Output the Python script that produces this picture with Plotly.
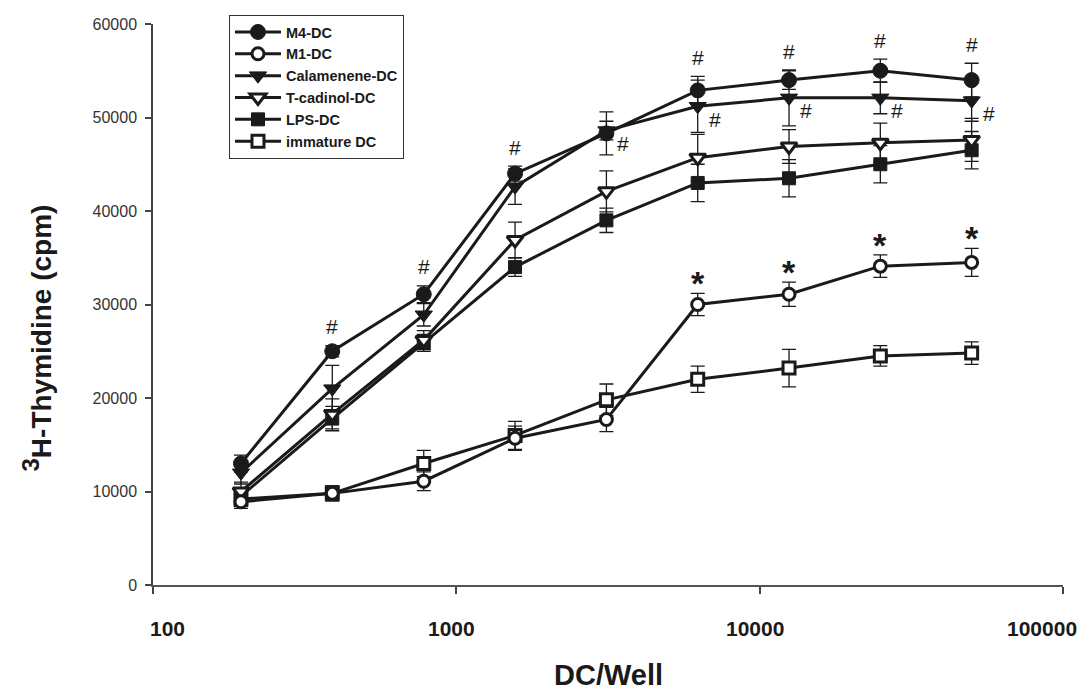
import math
import plotly.graph_objects as go

# DC per well (two-fold dilution series)
dc_per_well = [195, 390, 781, 1562, 3125, 6250, 12500, 25000, 50000]

m4_dc = [13000, 25000, 31100, 44000, 48300, 52900, 54000, 55000, 54000]
m4_dc_err = [900, 600, 900, 800, 2300, 1500, 1000, 1250, 1800]

m1_dc = [8900, 9800, 11100, 15700, 17700, 30000, 31100, 34100, 34500]
m1_dc_err = [700, 800, 1000, 1300, 1300, 1200, 1300, 1200, 1500]

calamenene_dc = [12000, 21000, 28900, 42600, 48600, 51200, 52100, 52100, 51800]
calamenene_dc_err = [1200, 2500, 1200, 1900, 1000, 2800, 3000, 1700, 2200]

tcadinol_dc = [10000, 18300, 26200, 36900, 42100, 45700, 46900, 47300, 47600]
tcadinol_dc_err = [1000, 1600, 1000, 1900, 2200, 2500, 1800, 2100, 2300]

lps_dc = [9500, 17800, 25900, 34000, 39000, 43000, 43500, 45000, 46500]
lps_dc_err = [900, 1300, 900, 1000, 1300, 2000, 2000, 2000, 2000]

immature_dc = [9200, 9800, 13000, 16000, 19800, 22000, 23200, 24500, 24800]
immature_dc_err = [800, 800, 1400, 1500, 1700, 1400, 2000, 1100, 1200]

y_ticks = [0, 10000, 20000, 30000, 40000, 50000, 60000]
x_ticks = [100, 1000, 10000, 100000]
x_tick_labels = ["100", "1000", "10000", "100000"]

# significance marks (indices into dc_per_well)
hash_over_m4 = [1, 2, 3, 5, 6, 7, 8]
hash_by_calamenene = [4, 5, 6, 7, 8]
star_over_m1 = [5, 6, 7, 8]

INK = "#1a1a1a"
FONT = "Liberation Sans, Arial, sans-serif"

series = [
    ("M4-DC", m4_dc, m4_dc_err, "circle", INK, 15),
    ("M1-DC", m1_dc, m1_dc_err, "circle", "white", 12),
    ("Calamenene-DC", calamenene_dc, calamenene_dc_err, "triangle-down", INK, 15),
    ("T-cadinol-DC", tcadinol_dc, tcadinol_dc_err, "triangle-down", "white", 14),
    ("LPS-DC", lps_dc, lps_dc_err, "square", INK, 13),
    ("immature DC", immature_dc, immature_dc_err, "square", "white", 12),
]

fig = go.Figure()
# draw bottom-most series first so the M4 curve sits on top
for rank, (name, vals, errs, sym, fill, size) in reversed(list(enumerate(series))):
    fig.add_trace(go.Scatter(
        x=dc_per_well, y=vals, name=name, mode="lines+markers",
        legendrank=rank + 1,
        line=dict(color=INK, width=3),
        marker=dict(symbol=sym, size=size, color=fill,
                    line=dict(color=INK, width=3 if fill == "white" else 1)),
        error_y=dict(type="data", array=errs, visible=True,
                     color=INK, thickness=1.3, width=7),
    ))

# annotation x on a log axis is given in log10 units
annotations = []
for i in hash_over_m4:
    annotations.append(dict(x=math.log10(dc_per_well[i]), y=m4_dc[i] + m4_dc_err[i],
                            text="#", showarrow=False, yanchor="middle",
                            yshift=19, font=dict(size=21, color=INK, family=FONT)))
for i in hash_by_calamenene:
    annotations.append(dict(x=math.log10(dc_per_well[i]), y=calamenene_dc[i],
                            text="#", showarrow=False, yanchor="middle",
                            xshift=17, yshift=-13,
                            font=dict(size=21, color=INK, family=FONT)))
for i in star_over_m1:
    annotations.append(dict(x=math.log10(dc_per_well[i]), y=m1_dc[i] + m1_dc_err[i],
                            text="<b>*</b>", showarrow=False, yanchor="middle",
                            yshift=10, font=dict(size=34, color=INK, family=FONT)))

# x tick labels, nudged inward so the last one stays on the page
label_nudge = [14, -5, -5, -21]
for v, txt, dx in zip(x_ticks, x_tick_labels, label_nudge):
    annotations.append(dict(x=math.log10(v), y=0, xref="x", yref="paper",
                            text=txt, showarrow=False, yanchor="middle",
                            xshift=dx, yshift=-43,
                            font=dict(size=21, color=INK, family=FONT, weight="bold")))

# axis titles
annotations.append(dict(x=0.5, y=0, xref="paper", yref="paper",
                        text="DC/Well", showarrow=False,
                        xanchor="center", yanchor="middle", yshift=-90,
                        font=dict(size=29, color=INK, family=FONT, weight="bold")))
annotations.append(dict(x=0, y=0.5, xref="paper", yref="paper",
                        text="<sup><span style='font-size:24px'>3</span></sup>H-Thymidine (cpm)",
                        textangle=-90, showarrow=False,
                        xanchor="center", yanchor="middle",
                        xshift=-116, yshift=-34,
                        font=dict(size=28, color=INK, family=FONT, weight="bold")))

fig.update_layout(
    width=1086, height=692,
    margin=dict(l=153, r=23, t=24, b=107, autoexpand=False),
    paper_bgcolor="white", plot_bgcolor="white",
    font=dict(family=FONT, color="#222"),
    showlegend=True,
    legend=dict(
        x=0.0835, y=1.016, xanchor="left", yanchor="top",
        bgcolor="white", bordercolor="#333", borderwidth=1,
        font=dict(size=14.5, color=INK, family=FONT, weight="bold"),
        tracegroupgap=0, itemwidth=46,
    ),
    annotations=annotations,
    xaxis=dict(
        type="log", range=[2, 5.0002], automargin=False,
        tickvals=x_ticks,
        showticklabels=False,
        ticks="outside", ticklen=7, tickcolor="#444", tickwidth=1.5,
        showline=True, linecolor="#555", linewidth=2,
        showgrid=False, zeroline=False,
    ),
    yaxis=dict(
        range=[0, 60000], automargin=False,
        tickvals=y_ticks,
        ticktext=[str(v) for v in y_ticks],
        ticks="outside", ticklen=6, tickcolor="#444", tickwidth=1.5,
        showline=True, linecolor="#444", linewidth=1.5,
        showgrid=False, zeroline=False,
        tickfont=dict(size=16, color="#333", family=FONT),
        ticklabelstandoff=5,
    ),
)

fig.write_html("out.html")
